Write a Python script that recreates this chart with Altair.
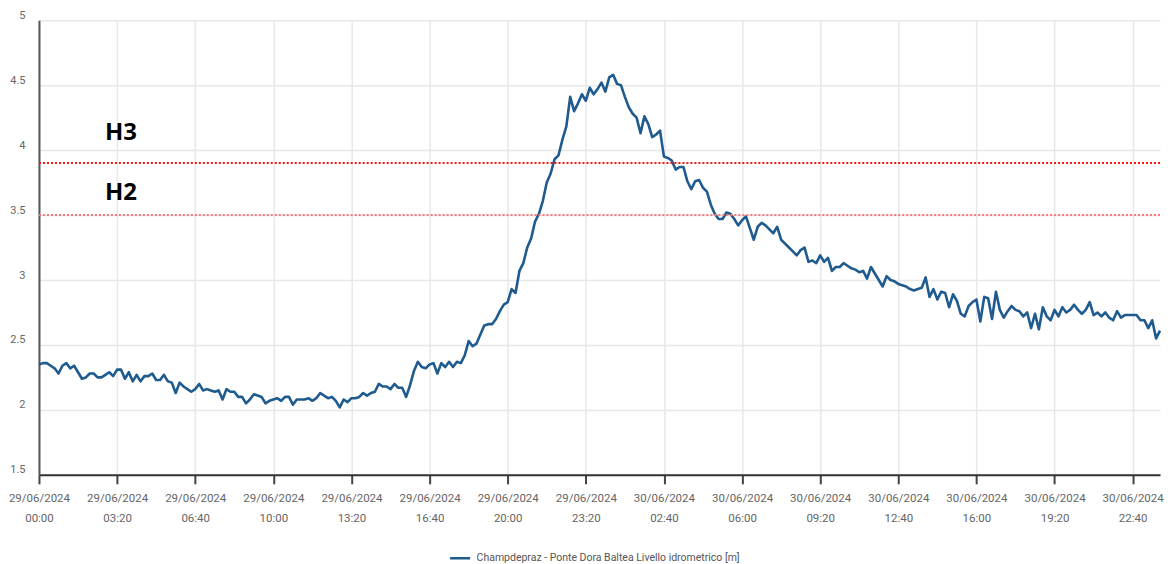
import altair as alt
import pandas as pd

# ---- data (10-minute readings) ----
start_time = "2024-06-29 00:00"
series_name = "Champdepraz - Ponte Dora Baltea Livello idrometrico [m]"

level_29 = [
    2.35, 2.36, 2.36, 2.34, 2.32, 2.28, 2.34, 2.36, 2.32, 2.34,
    2.29, 2.24, 2.25, 2.28, 2.28, 2.25, 2.25, 2.27, 2.29, 2.26,
    2.31, 2.31, 2.24, 2.29, 2.22, 2.27, 2.22, 2.26, 2.26, 2.28,
    2.23, 2.23, 2.27, 2.22, 2.21, 2.13, 2.21, 2.18, 2.16, 2.14,
    2.16, 2.20, 2.15, 2.16, 2.15, 2.14, 2.15, 2.08, 2.16,
    2.14, 2.14, 2.10, 2.10, 2.05, 2.08, 2.12, 2.11, 2.10, 2.05, 2.07,
    2.08, 2.09, 2.07, 2.10, 2.10, 2.04, 2.08, 2.08, 2.08, 2.09,
    2.07, 2.09, 2.13, 2.11, 2.09, 2.10, 2.07, 2.02, 2.08, 2.06,
    2.09, 2.09, 2.10, 2.13, 2.11, 2.13, 2.14, 2.20, 2.18, 2.18,
    2.16, 2.20, 2.17, 2.17, 2.10, 2.19, 2.30, 2.37, 2.33,
    2.32, 2.35, 2.36, 2.28, 2.36, 2.33, 2.37, 2.33, 2.37, 2.36,
    2.42, 2.53, 2.49, 2.51, 2.58, 2.65, 2.66, 2.66, 2.70, 2.76,
    2.81, 2.83, 2.93, 2.90, 3.07, 3.13, 3.25, 3.32, 3.45, 3.51,
    3.61, 3.75, 3.82, 3.93, 3.96, 4.08, 4.18, 4.41, 4.30, 4.36,
    4.43, 4.38, 4.48, 4.43, 4.47,
]
level_30 = [
    4.52,
    4.45, 4.56, 4.58, 4.51, 4.50,
    4.41, 4.33, 4.28, 4.25, 4.13, 4.26, 4.20, 4.10, 4.12, 4.15,
    3.95, 3.94, 3.92, 3.85, 3.87, 3.87, 3.76, 3.70, 3.76, 3.77,
    3.71, 3.68, 3.58, 3.51, 3.47, 3.47, 3.52, 3.51, 3.47, 3.42,
    3.46, 3.49, 3.40, 3.31, 3.41, 3.44, 3.42, 3.39, 3.36,
    3.41,
    3.31, 3.28, 3.25, 3.22, 3.19, 3.23, 3.25, 3.14, 3.15, 3.13,
    3.19, 3.14, 3.17, 3.07, 3.10, 3.10, 3.13, 3.11, 3.09, 3.08,
    3.06, 3.07, 3.01, 3.10, 3.05, 3.00, 2.95, 3.03, 3.00, 2.99,
    2.97, 2.96, 2.95, 2.93, 2.92, 2.93, 2.94, 3.02, 2.87, 2.93,
    2.85, 2.91, 2.90, 2.79, 2.89, 2.84, 2.74,
    2.72, 2.80, 2.83,
    2.85, 2.68, 2.87, 2.86, 2.70, 2.91, 2.77, 2.71, 2.76, 2.80,
    2.77, 2.76, 2.72, 2.75, 2.63, 2.74, 2.62, 2.79, 2.72, 2.69,
    2.77, 2.72, 2.79, 2.75, 2.77, 2.81, 2.77, 2.74, 2.77, 2.83,
    2.73, 2.75, 2.72, 2.75, 2.71, 2.69, 2.76, 2.71, 2.73, 2.73,
    2.73, 2.73, 2.69, 2.69, 2.63, 2.69, 2.55, 2.61,
]

tick_times = [
    "2024-06-29 00:00", "2024-06-29 03:20", "2024-06-29 06:40", "2024-06-29 10:00",
    "2024-06-29 13:20", "2024-06-29 16:40", "2024-06-29 20:00", "2024-06-29 23:20",
    "2024-06-30 02:40", "2024-06-30 06:00", "2024-06-30 09:20", "2024-06-30 12:40",
    "2024-06-30 16:00", "2024-06-30 19:20", "2024-06-30 22:40",
]
y_ticks = [1.5, 2, 2.5, 3, 3.5, 4, 4.5, 5]

threshold_names = ["H3", "H2"]
threshold_levels = [3.9, 3.5]
threshold_label_time = "2024-06-29 03:30"
threshold_label_levels = [4.13, 3.67]

# ---- styles ----
LINE_COLOR = "#1f5b8e"
H3_COLOR = "#ff1010"
H2_COLOR = "#ff7878"
GRID_COLOR = "#e8e8e8"
FONT = "Roboto"

levels = level_29 + level_30
times = pd.date_range(start_time, periods=len(levels), freq="10min")
df = pd.DataFrame({
    "time": times.strftime("%Y-%m-%dT%H:%M:%S"),
    "level": levels,
    "series": series_name,
})

thr = pd.DataFrame({
    "name": threshold_names,
    "level": threshold_levels,
    "label_time": pd.to_datetime([threshold_label_time] * 2).strftime("%Y-%m-%dT%H:%M:%S"),
    "label_level": threshold_label_levels,
})

tick_values = [
    alt.DateTime(year=t.year, month=t.month, date=t.day, hours=t.hour, minutes=t.minute)
    for t in pd.to_datetime(tick_times)
]

x_axis = alt.Axis(
    values=tick_values,
    labelExpr="[timeFormat(datum.value, '%d/%m/%Y'), timeFormat(datum.value, '%H:%M')]",
    title=None, labelAngle=0, labelAlign="center", labelFlush=False,
    grid=True, gridColor=GRID_COLOR, gridWidth=1.5,
    domainColor="#333333", domainWidth=2, tickColor="#444444", tickWidth=2, tickSize=9,
    labelColor="#666666", labelFont=FONT, labelFontSize=11.5, labelPadding=9,
    labelLineHeight=20, labelOverlap=False,
)
y_axis = alt.Axis(
    values=y_ticks, format="~g", title=None, grid=True, gridColor=GRID_COLOR, gridWidth=1.5,
    domainColor="#555555", domainWidth=2, ticks=False, labelPadding=14,
    labelBaseline="bottom", labelColor="#666666", labelFont=FONT, labelFontSize=11,
)

x_enc = alt.X("time:T", axis=x_axis, scale=alt.Scale(nice=False, padding=0))
y_scale = alt.Scale(domain=[1.5, 5], nice=False, zero=False)

line = alt.Chart(df).mark_line(strokeWidth=2.6, strokeJoin="round").encode(
    x=x_enc,
    y=alt.Y("level:Q", axis=y_axis, scale=y_scale),
    color=alt.Color(
        "series:N",
        scale=alt.Scale(range=[LINE_COLOR]),
        legend=alt.Legend(
            title=None, orient="none", legendX=410, legendY=527,
            symbolType="stroke", symbolSize=400, symbolStrokeWidth=2.5,
            labelFont=FONT, labelFontSize=10.5, labelColor="#555555",
            labelOffset=5, labelLimit=0, padding=0,
        ),
    ),
)

rule_h3 = alt.Chart(thr[thr["name"] == "H3"]).mark_rule(
    color=H3_COLOR, strokeWidth=2, strokeDash=[2, 2]
).encode(y=alt.Y("level:Q", scale=y_scale))
rule_h2 = alt.Chart(thr[thr["name"] == "H2"]).mark_rule(
    color=H2_COLOR, strokeWidth=2, strokeDash=[2, 2]
).encode(y=alt.Y("level:Q", scale=y_scale))

labels = alt.Chart(thr).mark_text(
    font="Open Sans", fontWeight="bold", fontSize=24, color="#000000"
).encode(
    x=alt.X("label_time:T"),
    y=alt.Y("label_level:Q", scale=y_scale),
    text="name:N",
)

chart = alt.layer(line, rule_h3, rule_h2, labels).properties(
    width=1122, height=455,
    padding={"left": 0, "top": 1, "right": 0, "bottom": 0},
    background="white",
).configure_view(stroke=None)

chart.save("out.html", embed_options={"renderer": "svg", "actions": False})
